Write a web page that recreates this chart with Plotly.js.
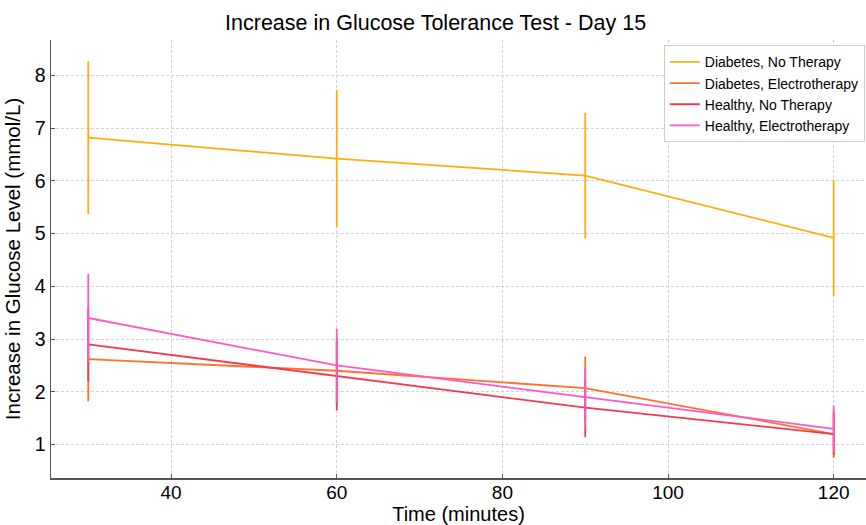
<!DOCTYPE html>
<html><head><meta charset="utf-8">
<script src="https://cdn.plot.ly/plotly-3.0.1.min.js"></script>
<style>html,body{margin:0;padding:0;background:#fff}#chart{width:866px;height:525px}</style>
</head><body><div id="chart"></div>
<script>
const times = [30, 60, 90, 120];
const seriesNames = ["Diabetes, No Therapy", "Diabetes, Electrotherapy", "Healthy, No Therapy", "Healthy, Electrotherapy"];
const diabetesNoTherapy = [6.82, 6.42, 6.10, 4.92];
const diabetesNoTherapyErr = [1.45, 1.30, 1.19, 1.10];
const diabetesElectro = [2.62, 2.40, 2.07, 1.20];
const diabetesElectroErr = [0.80, 0.62, 0.60, 0.45];
const healthyNoTherapy = [2.90, 2.30, 1.70, 1.20];
const healthyNoTherapyErr = [0.70, 0.65, 0.56, 0.40];
const healthyElectro = [3.40, 2.50, 1.90, 1.30];
const healthyElectroErr = [0.84, 0.70, 0.57, 0.44];
const colors = ["#FFAD0A", "#FF7128", "#F5384F", "#FF58C6"];

const vals = [diabetesNoTherapy, diabetesElectro, healthyNoTherapy, healthyElectro];
const errs = [diabetesNoTherapyErr, diabetesElectroErr, healthyNoTherapyErr, healthyElectroErr];

const traces = vals.map((v, i) => ({
  x: times, y: v, name: seriesNames[i], type: "scatter", mode: "lines",
  line: {color: colors[i], width: 1.8},
  error_y: {type: "data", array: errs[i], visible: true, color: colors[i], thickness: 1.8, width: 0}
}));

const layout = {
  width: 866, height: 525,
  margin: {l: 51, r: 0, t: 40, b: 47},
  paper_bgcolor: "#fff", plot_bgcolor: "#fff",
  font: {family: "Liberation Sans, Arial, sans-serif", color: "#000"},
  title: {text: "Increase in Glucose Tolerance Test - Day 15", font: {size: 21.5}, x: 0.503, xanchor: "center", y: 0.958, yanchor: "middle"},
  xaxis: {
    range: [25.5, 123.9], tickvals: [40, 60, 80, 100, 120],
    showgrid: true, gridcolor: "#d3d3d3", griddash: "3px,2px", gridwidth: 1,
    zeroline: false, showline: true, linecolor: "#555", linewidth: 1.5,
    ticks: "inside", ticklen: 4, tickcolor: "#555", ticklabelstandoff: -3,
    tickfont: {size: 19}, title: {text: "Time (minutes)", font: {size: 20}, standoff: 7}
  },
  yaxis: {
    range: [0.367, 8.67], tickvals: [1, 2, 3, 4, 5, 6, 7, 8],
    showgrid: true, gridcolor: "#d3d3d3", griddash: "3px,2px", gridwidth: 1,
    zeroline: false, showline: true, linecolor: "#555", linewidth: 1.5,
    ticks: "inside", ticklen: 4, tickcolor: "#555",
    tickfont: {size: 19.5}, title: {text: "Increase in Glucose Level (mmol/L)", font: {size: 20.5}, standoff: 8}
  },
  legend: {
    x: 0.9985, xanchor: "right", y: 0.988, yanchor: "top",
    bgcolor: "rgba(255,255,255,0.85)", bordercolor: "#cccccc", borderwidth: 1,
    font: {size: 14}, tracegroupgap: 0, itemwidth: 30
  },
  showlegend: true
};
Plotly.newPlot("chart", traces, layout, {displayModeBar: false, staticPlot: true});
</script></body></html>
